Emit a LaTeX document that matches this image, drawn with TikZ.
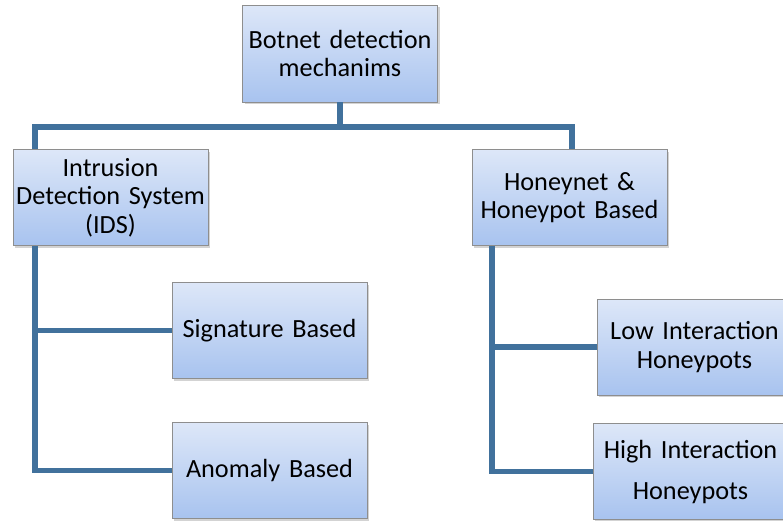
\documentclass[tikz,border=0pt]{standalone}
\usepackage{fontspec}
\setmainfont{Carlito}
\usetikzlibrary{shadows}
\definecolor{linkblue}{HTML}{41719C}
\definecolor{boxtop}{HTML}{DDE7F8}
\definecolor{boxbot}{HTML}{A8C3EF}
\definecolor{boxline}{HTML}{8E8E8E}
\begin{document}
\begin{tikzpicture}[x=0.03cm, y=-0.03cm,
			mechbox/.style = {rectangle, draw=boxline, line width=0.8pt,
				top color=boxtop, bottom color=boxbot,
				drop shadow={shadow xshift=2pt, shadow yshift=-2pt, opacity=0.35},
				minimum width=195*0.03cm, minimum height=96*0.03cm,
				text width=192*0.03cm, align=center, inner sep=0pt,
				font=\fontsize{22.4}{24.5}\selectfont},
			link/.style = {linkblue, line width=4.3pt}
					]
			\clip (0,0) rectangle (783,520);
			\node[mechbox, minimum height=97*0.03cm] (top) at (340,53.5) {Botnet detection\\mechanims};
			% left branch
			\node[mechbox] (ids) at (110.5,197.5) {Intrusion\\Detection System\\(IDS)};
			\node[mechbox] (sig) at (269.5,330.5) {Signature Based};
			\node[mechbox] (anom) at (269.5,470.5) {Anomaly Based};
			% right branch
			\node[mechbox] (honey) at (569.5,197.5) {Honeynet \&\\Honeypot Based};
			\node[mechbox] (low) at (694.5,347) {Low Interaction\\Honeypots};
			\node[mechbox, font=\fontsize{22.4}{35}\selectfont] (high) at (690.5,471.5) {High Interaction\\Honeypots};
			\coordinate (busL) at (35,127);
			\coordinate (busR) at (572,127);
			\coordinate (spineR) at (492,0);
			\draw[link] (top.south) -- (top.south |- busL);
			\draw[link] (ids.north -| busL) -- (busL) -- (busR) -- (honey.north -| busR);
			\draw[link] (ids.south -| busL) |- (anom.west);
			\draw[link] (sig.west -| busL) -- (sig.west);
			\draw[link] (honey.south -| spineR) |- (high.west);
			\draw[link] (low.west -| spineR) -- (low.west);
		\end{tikzpicture}
\end{document}
